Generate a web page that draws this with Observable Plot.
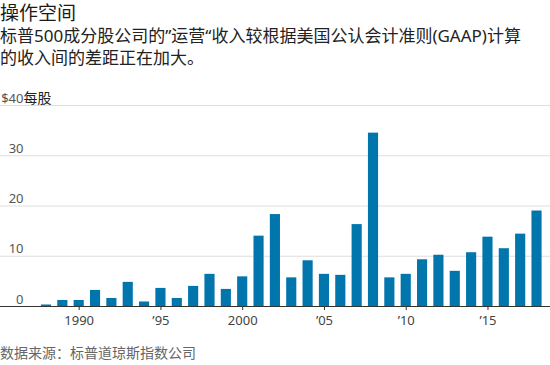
<!DOCTYPE html>
<html>
<head>
<meta charset="utf-8">
<script src="https://cdn.jsdelivr.net/npm/d3@7"></script>
<script src="https://cdn.jsdelivr.net/npm/@observablehq/plot@0.6"></script>
<style>
  html, body { margin: 0; padding: 0; background: #fff; }
  body { width: 550px; height: 365px; position: relative; overflow: hidden;
         font-family: "Noto Sans", "Noto Sans CJK SC", sans-serif; }
  #title { position: absolute; left: 0; top: 1px; font-size: 19px; line-height: 24px; color: #1a1a1a; white-space: nowrap; }
  #subtitle { position: absolute; left: 0; top: 25px; font-size: 17px; line-height: 22px; color: #222; white-space: nowrap; }
  #chart { position: absolute; left: 0; top: 80px; }
  #caption { position: absolute; left: 0; top: 343px; font-size: 14px; line-height: 20px; color: #666; white-space: nowrap; }
</style>
</head>
<body>
<div id="title">操作空间</div>
<div id="subtitle">标普500成分股公司的”运营“收入较根据美国公认会计准则(GAAP)计算<br>的收入间的差距正在加大。</div>
<div id="chart"></div>
<div id="caption">数据来源：标普道琼斯指数公司</div>
<script>
const years = [1988,1989,1990,1991,1992,1993,1994,1995,1996,1997,1998,1999,2000,2001,2002,2003,2004,2005,2006,2007,2008,2009,2010,2011,2012,2013,2014,2015,2016,2017,2018];
const values = [0.3,1.2,1.2,3.2,1.6,4.8,0.9,3.6,1.6,4.0,6.4,3.4,5.9,14.0,18.3,5.7,9.1,6.4,6.2,16.3,34.5,5.7,6.4,9.3,10.2,7.0,10.7,13.8,11.5,14.4,19.0];
const xTicks = [1990,1995,2000,2005,2010,2015];
const xTickLabels = ["1990","’95","2000","’05","’10","’15"];
const yTicks = [0,10,20,30,40];
const yTickLabels = ["0","10","20","30","$40"];
const yUnit = "每股";

const data = years.map((year, i) => ({year, value: values[i]}));
const ml = 37.8, mr = 5.3;

const chart = Plot.plot({
  width: 550,
  height: 255,
  marginLeft: ml,
  marginRight: mr,
  marginTop: 25,
  marginBottom: 29,
  style: {fontFamily: '"Noto Sans", "Noto Sans CJK SC", sans-serif', background: "transparent"},
  x: {type: "band", domain: years, paddingInner: 0.38, paddingOuter: 0.19, align: 0.5, round: false, axis: null},
  y: {domain: [0, 40], axis: null},
  marks: [
    Plot.ruleY(yTicks.filter(d => d > 0), {stroke: "#dedede", strokeWidth: 1, insetLeft: -ml, insetRight: -mr}),
    Plot.barY(data, {x: "year", y: "value", fill: "#0076ad"}),
    Plot.ruleY([0], {stroke: "#333", strokeWidth: 1, insetLeft: -ml, insetRight: -mr}),
    Plot.axisX({
      ticks: xTicks,
      tickFormat: d => xTickLabels[xTicks.indexOf(d)],
      tickSize: 4,
      tickPadding: 5,
      fontSize: 13,
      stroke: "#333",
      fill: "#444",
      label: null
    }),
    Plot.text(yTicks, {
      y: d => d,
      text: (d, i) => yTickLabels[i],
      frameAnchor: "left",
      textAnchor: "end",
      lineAnchor: "bottom",
      dx: 23 - ml,
      dy: -3,
      fontSize: 13,
      fill: "#555"
    }),
    Plot.text([yUnit], {
      y: () => 40,
      text: d => d,
      frameAnchor: "left",
      textAnchor: "start",
      lineAnchor: "bottom",
      dx: 23 - ml,
      dy: -3,
      fontSize: 14,
      fill: "#222"
    })
  ]
});
document.getElementById("chart").appendChild(chart);
</script>
</body>
</html>
